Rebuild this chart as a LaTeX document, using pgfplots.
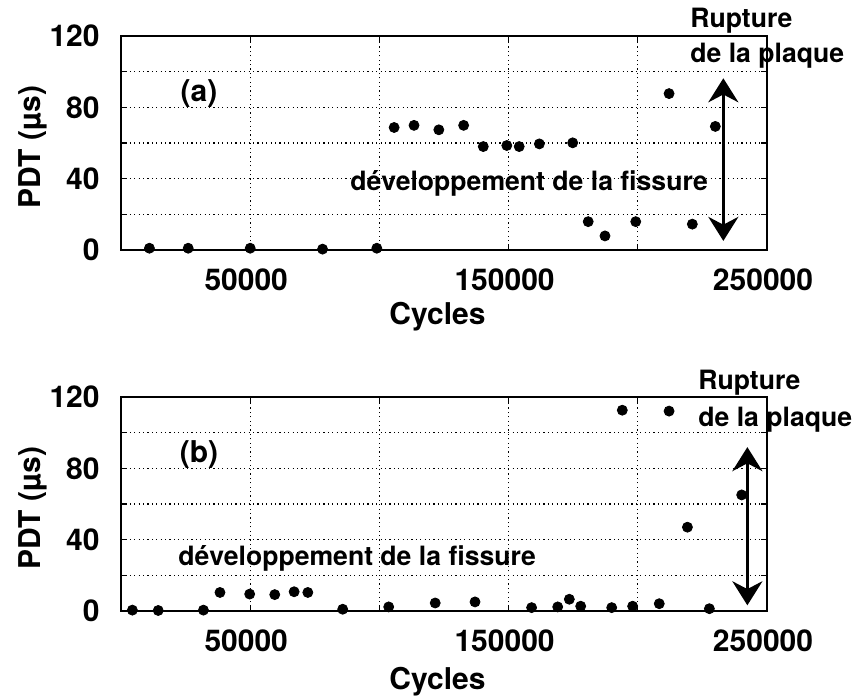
\documentclass[border=0pt]{standalone}
\usepackage{fontspec}
\setmainfont{TeX Gyre Heros}
\usepackage{pgfplots}
\pgfplotsset{compat=1.18}
\usetikzlibrary{arrows.meta}

\newcommand\ticksize{\fontsize{15}{18}\selectfont\bfseries}
\newcommand\notesize{\fontsize{13.3}{16}\selectfont\bfseries}

\pgfplotsset{
  panel/.style={
    scale only axis, width=323pt, height=107pt,
    xmin=0, xmax=250000, ymin=0, ymax=120,
    xtick={0,50000,...,250000}, xticklabels={,50000,,150000,,250000},
    ytick={0,20,...,120}, yticklabels={0,,40,,80,,120},
    scaled x ticks=false,
    grid=major, grid style={black, line width=0.6pt, dash pattern=on 0.6pt off 1.6pt},
    axis line style={line width=1pt},
    tick align=inside, major tick length=3pt, tick style={black, line width=0.6pt},
    tick label style={font=\ticksize, inner sep=0pt},
    /pgf/number format/assume math mode=true,
    xticklabel style={anchor=center, yshift=-15pt, xshift=-2pt},
    yticklabel style={anchor=east, xshift=-10.5pt},
    xlabel={Cycles}, ylabel={PDT (µs)},
    label style={font=\ticksize},
    ylabel style={at={(axis description cs:-0.136,0.48)}, anchor=center},
    clip=false,
  },
  pts/.style={only marks, mark=*, mark size=2.5pt, black},
}
\tikzset{
  note/.style={font=\notesize, inner sep=0pt},
  tag/.style={font=\ticksize, inner sep=0pt},
  rupt/.style={line width=1.6pt, {Stealth[length=12pt,width=15pt]}-{Stealth[length=12pt,width=15pt]}},
}

\begin{document}
\begin{tikzpicture}
% (a)
\begin{axis}[panel, at={(60.5pt,-125pt)}, anchor=south west,
  xlabel style={at={(axis description cs:0.49,0)}, anchor=base, yshift=-37pt}]
\addplot[pts] coordinates {
  (11000,1) (26000,1) (50000,1) (78000,0.5) (99000,1)
  (105700,68.7) (113400,69.9) (123000,67.4) (132600,69.9)
  (140200,58) (149300,58.6) (154100,58) (161900,59.5) (174800,60.1)
  (180800,15.9) (187300,7.9) (199200,15.9) (212100,87.7) (221100,14.5) (230000,69.3)
};
\node[tag] at (axis cs:30200,87.5) {(a)};
\node[note, anchor=base west] at (axis cs:88600,33.2) {développement de la fissure};
\node[note, anchor=base west] at (axis cs:220200,124.5) {Rupture};
\node[note, anchor=base west] at (axis cs:220200,105.4) {de la plaque};
\draw[rupt] (axis cs:233100,96.3) -- (axis cs:233100,5.1);
\end{axis}
% (b)
\begin{axis}[panel, at={(60.5pt,-305.5pt)}, anchor=south west,
  xlabel style={at={(axis description cs:0.49,0)}, anchor=base, yshift=-39pt}]
\addplot[pts] coordinates {
  (4400,0.5) (14400,0.3) (31900,0.5) (38300,10.4) (49800,9.5) (59500,9.2)
  (67000,10.8) (72300,10.4) (85800,1) (103600,2.3) (121600,4.5) (137000,5.1)
  (158900,1.9) (169000,2.3) (173500,6.6) (177900,2.7) (189900,1.9) (198000,2.7)
  (208300,4.1) (227700,1.3) (194000,112.6) (212100,112.1) (219200,47) (240200,65.1)
};
\node[tag] at (axis cs:30200,88) {(b)};
\node[note, anchor=base west] at (axis cs:22060,25.3) {développement de la fissure};
\node[note, anchor=base west] at (axis cs:223300,124) {Rupture};
\node[note, anchor=base west] at (axis cs:223300,103.6) {de la plaque};
\draw[rupt] (axis cs:242400,91.9) -- (axis cs:242400,3.2);
\end{axis}
\pgfresetboundingbox
\useasboundingbox (0,0) rectangle (427.5pt,-348pt);
\end{tikzpicture}
\end{document}
